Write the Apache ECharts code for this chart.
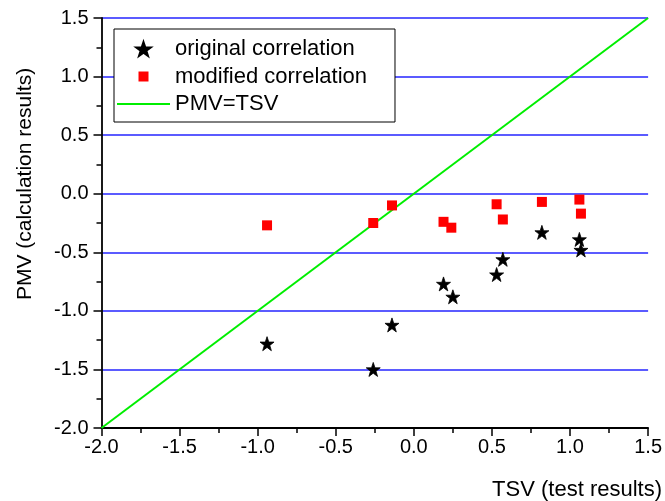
<!DOCTYPE html>
<html>
<head>
<meta charset="utf-8">
<script src="https://cdn.jsdelivr.net/npm/echarts@6/dist/echarts.min.js"></script>
<style>html,body{margin:0;padding:0;background:#fff}#c{width:665px;height:501px}</style>
</head>
<body>
<div id="c"></div>
<script>
// Data
var tsvOriginal = [-0.94, -0.26, -0.14, 0.19, 0.25, 0.53, 0.57, 0.82, 1.06, 1.07];
var pmvOriginal = [-1.28, -1.50, -1.12, -0.77, -0.88, -0.69, -0.56, -0.33, -0.39, -0.48];
var tsvModified = [-0.94, -0.26, -0.14, 0.19, 0.24, 0.53, 0.57, 0.82, 1.06, 1.07];
var pmvModified = [-0.27, -0.25, -0.10, -0.24, -0.29, -0.09, -0.22, -0.07, -0.05, -0.17];
var identityLine = [-2.0, 1.5];
var seriesNames = ['original correlation', 'modified correlation', 'PMV=TSV'];
var axisTitles = {x: 'TSV (test results)', y: 'PMV (calculation results)'};

function zip(a, b) { return a.map(function (v, i) { return [v, b[i]]; }); }

var FONT = 'Liberation Sans, Arial, sans-serif';
var STAR = 'path://M50,0 L61.8,35.3 L97.6,35.3 L68.8,57.1 L79.4,91.4 L50,70 L20.6,91.4 L31.2,57.1 L2.4,35.3 L38.2,35.3 Z';
var SQUARE_LEGEND = 'path://M0,0M14,14M2,2L12,2L12,12L2,12Z';
var LINE_LEGEND = 'path://M0,0L53,0L53,2L0,2Z';

var chart = echarts.init(document.getElementById('c'), null, {renderer: 'canvas'});
chart.setOption({
  animation: false,
  backgroundColor: '#fff',
  grid: {left: 101.5, right: 16.5, top: 18, bottom: 73, containLabel: false},
  legend: {
    orient: 'vertical',
    left: 114, top: 29,
    padding: [9, 28, 7, 3],
    itemWidth: 53, itemHeight: 14, itemGap: 5.5,
    backgroundColor: '#fff',
    borderColor: '#000', borderWidth: 1,
    textStyle: {fontFamily: FONT, fontSize: 22, color: '#000'},
    data: [
      {name: seriesNames[0], icon: STAR},
      {name: seriesNames[1], icon: SQUARE_LEGEND},
      {name: seriesNames[2], icon: LINE_LEGEND}
    ]
  },
  xAxis: {
    type: 'value', min: -2, max: 1.5, interval: 0.5,
    axisLine: {onZero: false, lineStyle: {color: '#000', width: 1.8}},
    axisTick: {inside: false, length: 8, lineStyle: {color: '#000', width: 1.5}},
    minorTick: {show: true, splitNumber: 2, length: 5, lineStyle: {color: '#000', width: 1.5}},
    splitLine: {show: false},
    axisLabel: {fontFamily: FONT, fontSize: 20, color: '#000', margin: 9,
      formatter: function (v) { return v.toFixed(1); }}
  },
  yAxis: {
    type: 'value', min: -2, max: 1.5, interval: 0.5,
    axisLine: {onZero: false, lineStyle: {color: '#000', width: 1.8}},
    axisTick: {inside: false, length: 8, lineStyle: {color: '#000', width: 1.5}},
    minorTick: {show: true, splitNumber: 2, length: 5, lineStyle: {color: '#000', width: 1.5}},
    splitLine: {show: true, lineStyle: {color: '#2424ff', width: 1.5}},
    axisLabel: {fontFamily: FONT, fontSize: 20, color: '#000', margin: 13,
      formatter: function (v) { return v.toFixed(1); }}
  },
  graphic: [
    {type: 'text', x: 25, y: 184, rotation: Math.PI / 2,
      style: {text: axisTitles.y, font: '21px ' + FONT, fill: '#000', align: 'center', verticalAlign: 'middle'}},
    {type: 'text', x: 662, y: 490,
      style: {text: axisTitles.x, font: '22px ' + FONT, fill: '#000', align: 'right', verticalAlign: 'middle'}}
  ],
  series: [
    {name: seriesNames[2], type: 'line', z: 1, symbol: 'none', silent: true,
      data: zip(identityLine, identityLine),
      lineStyle: {color: '#00ee00', width: 2}, itemStyle: {color: '#00ee00'}},
    {name: seriesNames[0], type: 'scatter', z: 3, symbol: STAR, symbolSize: 14,
      data: zip(tsvOriginal, pmvOriginal),
      itemStyle: {color: '#000', opacity: 1, borderColor: '#000', borderWidth: 0.8}},
    {name: seriesNames[1], type: 'scatter', z: 2, symbol: 'rect', symbolSize: 10,
      data: zip(tsvModified, pmvModified), itemStyle: {color: '#ff0000', opacity: 1}}
  ]
});
</script>
</body>
</html>
